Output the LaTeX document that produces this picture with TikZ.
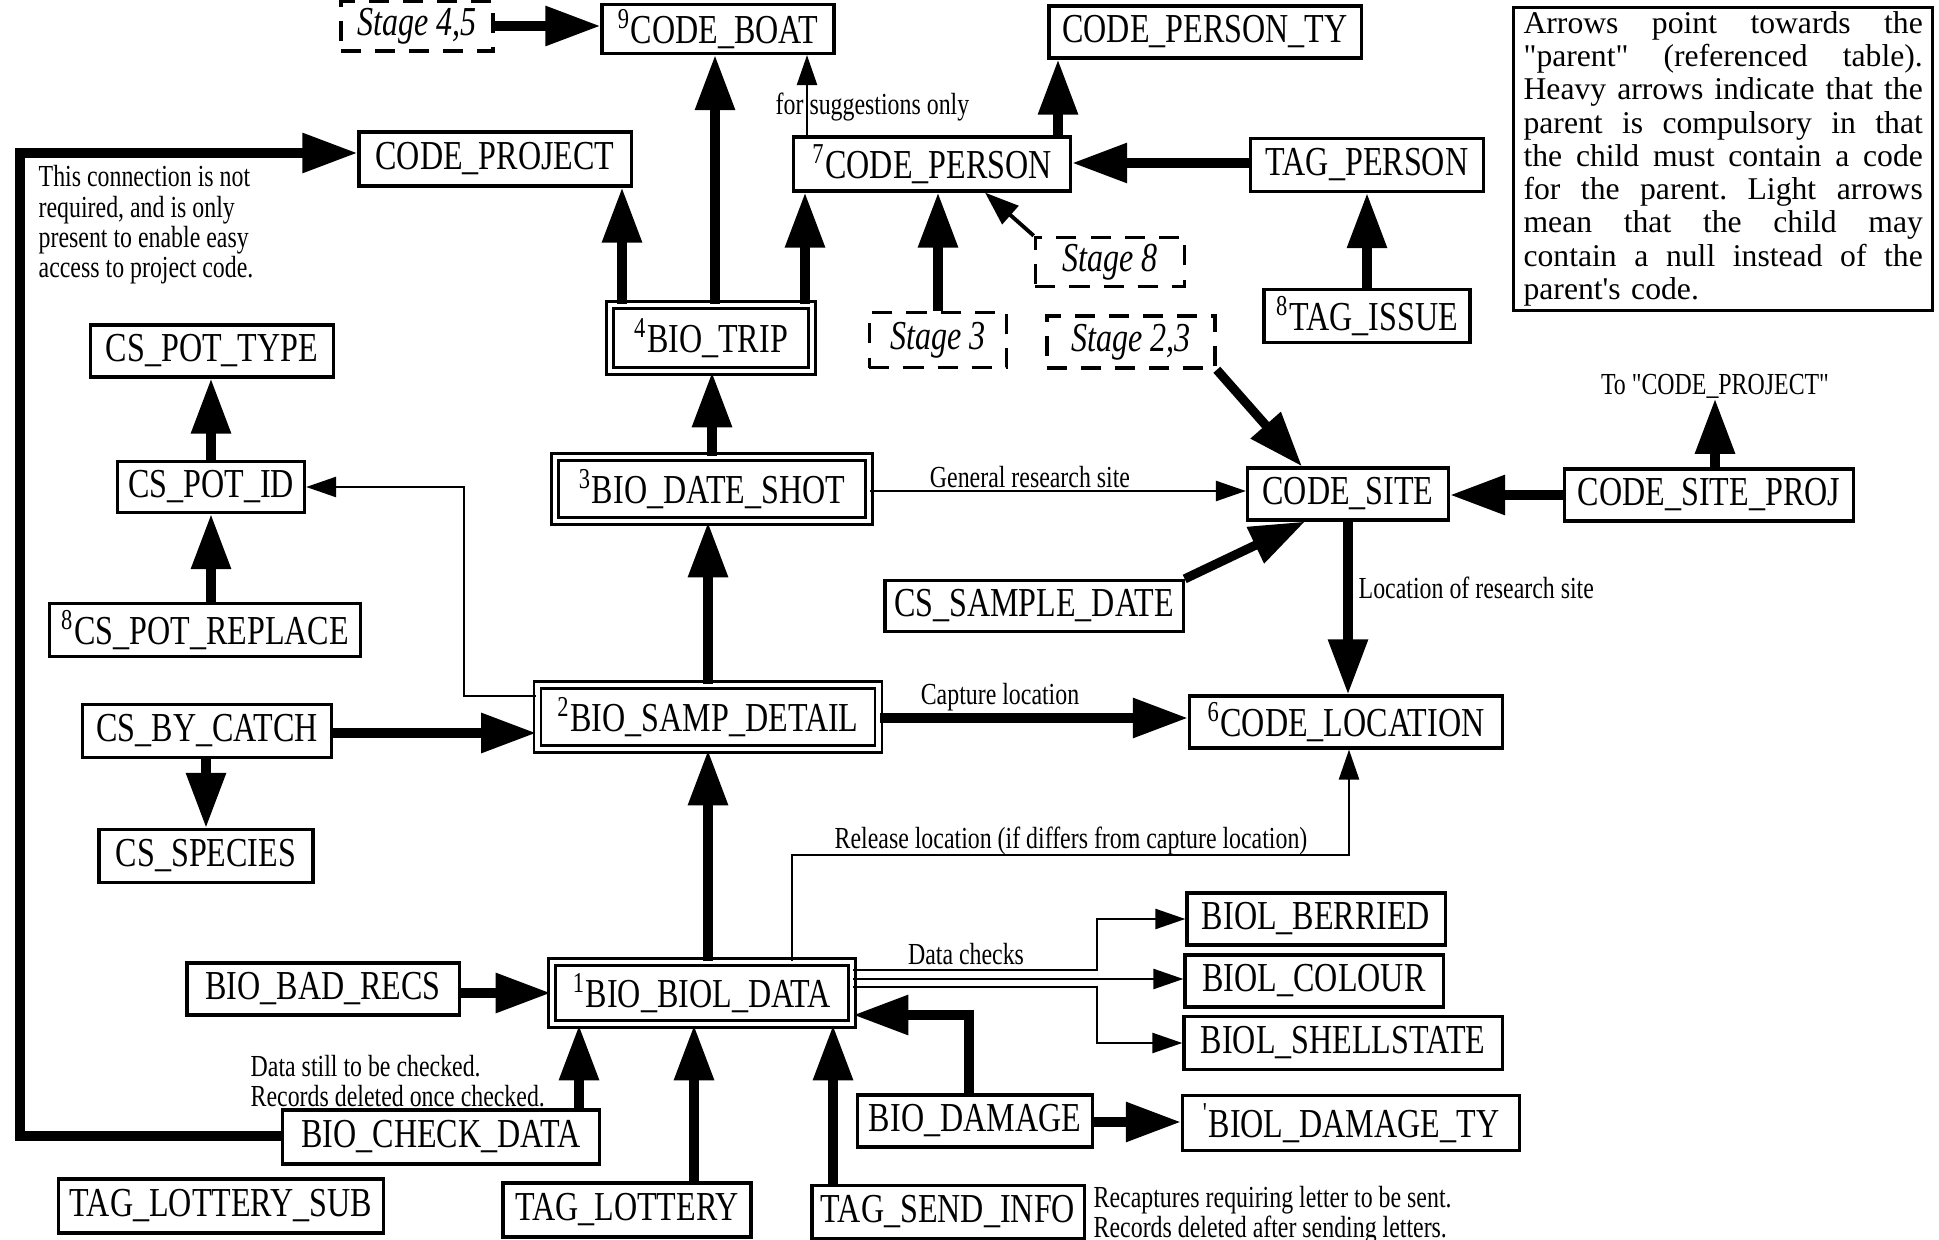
\documentclass[tikz,border=0pt]{standalone}
\usepackage{fontspec}
\setmainfont{Liberation Serif}
\newfontfamily\tblfont{Liberation Serif}[FakeStretch=0.78]
\newfontfamily\legendfont{Liberation Serif}
\usetikzlibrary{arrows.meta}

\newcommand\tblsize{\fontsize{11.7pt}{13pt}\selectfont}
\newcommand\notesize{\fontsize{8.7pt}{8.6pt}\selectfont}
\newcommand\legline[1]{\makebox[3.99cm][s]{#1}}

\begin{document}
\begin{tikzpicture}[
		x=0.01cm, y=-0.01cm,
		tbl/.style={draw, line width=0.9pt, inner sep=0pt, minimum height=0.52cm, font=\tblfont\tblsize},
		keybox/.style={tbl, line width=0.7pt, double, double distance=1.3pt, minimum height=0.64cm},
		stagebox/.style={draw, line width=1pt, dash pattern=on 0.2cm off 0.14cm, inner sep=0pt, font=\tblfont\itshape\tblsize},
		remark/.style={inner sep=0pt, align=left, font=\tblfont\notesize},
		heavy/.style={line width=2.6pt, -{Triangle[length=0.55cm,width=0.38cm]}},
		light/.style={line width=0.7pt, -{Triangle[length=0.3cm,width=0.2cm]}}
		]
		
		\fill[white] (0,0) rectangle (1939,1240);
		\useasboundingbox (0,0) rectangle (1939,1240);
		
		\node (stagefour) [stagebox, minimum width=1.52cm, minimum height=0.50cm] at (417,26) {Stage 4,5};
		\node (boat) [tbl, minimum width=2.32cm, minimum height=0.49cm] at (718,29) {\textsuperscript{9}CODE\_BOAT};
		\node (persontype) [tbl, minimum width=3.12cm] at (1205,32) {CODE\_PERSON\_TY};
		\node (project) [tbl, minimum width=2.72cm, minimum height=0.54cm] at (495,159) {CODE\_PROJECT};
		\node (person) [tbl, minimum width=2.77cm, minimum height=0.54cm] at (932,164) {\textsuperscript{7}CODE\_PERSON};
		\node (tagperson) [tbl, minimum width=2.33cm, minimum height=0.53cm] at (1367,165) {TAG\_PERSON};
		\node (stageeight) [stagebox, minimum width=1.49cm, minimum height=0.49cm] at (1110,262) {Stage 8};
		\node (tagissue) [tbl, minimum width=2.06cm, minimum height=0.53cm] at (1367,316) {\textsuperscript{8}TAG\_ISSUE};
		\node (trip) [keybox, minimum width=2.02cm, minimum height=0.66cm] at (711,338) {\textsuperscript{4}BIO\_TRIP};
		\node (stagethree) [stagebox, minimum width=1.37cm, minimum height=0.55cm] at (938,340) {Stage 3};
		\node (stagetwo) [stagebox, minimum width=1.68cm, minimum height=0.52cm] at (1131,342) {Stage 2,3};
		\node (pottype) [tbl, minimum width=2.43cm] at (212,351) {CS\_POT\_TYPE};
		\node (potid) [tbl, minimum width=1.87cm, minimum height=0.51cm] at (211,487) {CS\_POT\_ID};
		\node (dateshot) [keybox, minimum width=3.14cm] at (712,489) {\textsuperscript{3}BIO\_DATE\_SHOT};
		\node (site) [tbl, minimum width=2.01cm] at (1348,494) {CODE\_SITE};
		\node (siteproj) [tbl, minimum width=2.89cm] at (1709,495) {CODE\_SITE\_PROJ};
		\node (toproject) [remark] at (1715,386) {To "CODE\_PROJECT"};
		\node (sampledate) [tbl, minimum width=2.98cm, minimum height=0.51cm] at (1034,606) {CS\_SAMPLE\_DATE};
		\node (potreplace) [tbl, minimum width=3.11cm, minimum height=0.53cm] at (205,630) {\textsuperscript{8}CS\_POT\_REPLACE};
		\node (sampdetail) [keybox, minimum width=3.41cm] at (708,717) {\textsuperscript{2}BIO\_SAMP\_DETAIL};
		\node (bycatch) [tbl, minimum width=2.49cm, minimum height=0.53cm] at (207,731) {CS\_BY\_CATCH};
		\node (location) [tbl, minimum width=3.13cm] at (1346,722) {\textsuperscript{6}CODE\_LOCATION};
		\node (species) [tbl, minimum width=2.14cm, minimum height=0.53cm] at (206,856) {CS\_SPECIES};
		\node (berried) [tbl, minimum width=2.58cm] at (1316,919) {BIOL\_BERRIED};
		\node (colour) [tbl, minimum width=2.58cm] at (1314,981) {BIOL\_COLOUR};
		\node (shellstate) [tbl, minimum width=3.18cm, minimum height=0.53cm] at (1343,1043) {BIOL\_SHELLSTATE};
		\node (badrecs) [tbl, minimum width=2.72cm] at (323,989) {BIO\_BAD\_RECS};
		\node (biol) [keybox, minimum width=3.00cm, minimum height=0.62cm] at (702,993) {\textsuperscript{1}BIO\_BIOL\_DATA};
		\node (checkdata) [tbl, minimum width=3.17cm, minimum height=0.54cm] at (441,1137) {BIO\_CHECK\_DATA};
		\node (damage) [tbl, minimum width=2.35cm] at (975,1121) {BIO\_DAMAGE};
		\node (damagetype) [tbl, minimum width=3.37cm, minimum height=0.55cm] at (1351,1123) {\textsuperscript{'}BIOL\_DAMAGE\_TY};
		\node (lotterysub) [tbl, minimum width=3.24cm, minimum height=0.54cm] at (221,1206) {TAG\_LOTTERY\_SUB};
		\node (lottery) [tbl, minimum width=2.48cm, minimum height=0.54cm] at (627,1210) {TAG\_LOTTERY};
		\node (sendinfo) [tbl, minimum width=2.72cm, minimum height=0.53cm] at (948,1212) {TAG\_SEND\_INFO};
		
		\node (legend) [draw, line width=0.9pt, anchor=north west, inner xsep=0.1cm, inner ysep=0.04cm, text width=3.99cm, align=left, font=\legendfont\fontsize{9pt}{9.45pt}\selectfont] at (1512,6) {\legline{Arrows\hfill point\hfill towards\hfill the}\\
			\legline{"parent"\hfill (referenced\hfill table).}\\
			\legline{Heavy\hfill arrows\hfill indicate\hfill that\hfill the}\\
			\legline{parent\hfill is\hfill compulsory\hfill in\hfill that}\\
			\legline{the\hfill child\hfill must\hfill contain\hfill a\hfill code}\\
			\legline{for\hfill the\hfill parent.\hfill Light\hfill arrows}\\
			\legline{mean\hfill that\hfill the\hfill child\hfill may}\\
			\legline{contain\hfill a\hfill null\hfill instead\hfill of\hfill the}\\
			parent's code.};
		
		\node (suggest) [remark, anchor=west] at (775,107) {for suggestions only};
		\node (notneeded) [remark, anchor=north west] at (38,165) {This connection is not\\required, and is only\\present to enable easy\\access to project code.};
		\node (research) [remark] at (1030,477) {General research site};
		\node (siteloc) [remark, anchor=west] at (1358,588) {Location of research site};
		\node (capture) [remark] at (1000,697) {Capture location};
		\node (release) [remark] at (1071,841) {Release location (if differs from capture location)};
		\node (checks) [remark] at (966,954) {Data checks};
		\node (tocheck) [remark, anchor=west] at (250,1081) {Data still to be checked.\\Records deleted once checked.};
		\node (letters) [remark, anchor=west] at (1093,1215) {Recaptures requiring letter to be sent.\\Records deleted after sending letters.};
		
		\draw[heavy] (stagefour.east) -- (stagefour.east -| boat.west);
		\draw[heavy] (trip.north -| 622,0) -- (project.south -| 622,0);
		\draw[heavy] (trip.north -| 715,0) -- (boat.south -| 715,0);
		\draw[heavy] (trip.north -| 805,0) -- (person.south -| 805,0);
		\draw[light] (person.north -| 807,0) -- (boat.south -| 807,0);
		\draw[heavy] (person.north -| 1058,0) -- (persontype.south -| 1058,0);
		\draw[heavy] (tagperson.west |- 0,163) -- (person.east |- 0,163);
		\draw[heavy] (tagissue.north) -- (tagissue.north |- tagperson.south);
		\draw[heavy] (stagethree.north) -- (stagethree.north |- person.south);
		\draw[line width=1.1pt, -{Triangle[length=0.34cm,width=0.24cm]}] (stageeight.north west) -- (person.south -| 985,0);
		\draw[heavy] (stagetwo.south east) -- (site.north -| 1302,0);
		\draw[heavy] (sampledate.north east) -- (site.south -| 1305,0);
		\draw[heavy] (siteproj.west) -- (siteproj.west -| site.east);
		\draw[heavy] (siteproj.north -| toproject.south) -- (toproject.south);
		\draw[heavy] (site.south) -- (site.south |- location.north);
		\draw[light] (dateshot.east |- 0,491) -- (site.west |- 0,491);
		\draw[heavy] (dateshot.north) -- (dateshot.north |- trip.south);
		\draw[heavy] (sampdetail.north) -- (sampdetail.north |- dateshot.south);
		\draw[heavy] (biol.north -| sampdetail.north) -- (sampdetail.south);
		\draw[heavy] (sampdetail.east |- 0,718) -- (location.west |- 0,718);
		\draw[heavy] (bycatch.east |- 0,733) -- (sampdetail.west |- 0,733);
		\draw[heavy] (bycatch.south -| species.north) -- (species.north);
		\draw[heavy] (potid.north) -- (potid.north |- pottype.south);
		\draw[heavy] (potid.south |- potreplace.north) -- (potid.south);
		\draw[light] (sampdetail.west |- 0,696) -| (464,487) -- (potid.east |- 0,487);
		\draw[heavy] (badrecs.east |- 0,993) -- (biol.west |- 0,993);
		\draw[heavy] (checkdata.north -| 579,0) -- (biol.south -| 579,0);
		\draw[heavy] (lottery.north -| 694,0) -- (biol.south -| 694,0);
		\draw[heavy] (sendinfo.north -| 833,0) -- (biol.south -| 833,0);
		\draw[heavy] (damage.north -| 969,0) |- (biol.east |- 0,1015);
		\draw[heavy] (damage.east |- 0,1122) -- (damagetype.west |- 0,1122);
		\draw[heavy] (checkdata.west |- 0,1136) -| (20,153) -- (project.west |- 0,153);
		\draw[light] (biol.north -| 792,0) |- (1349,855) -- (location.south -| 1349,0);
		\draw[light] (biol.east |- 0,970) -| (1097,919) -- (berried.west |- 0,919);
		\draw[light] (biol.east |- 0,979) -- (colour.west |- 0,979);
		\draw[light] (biol.east |- 0,987) -| (1097,1043) -- (shellstate.west |- 0,1043);
		
	\end{tikzpicture}
\end{document}
